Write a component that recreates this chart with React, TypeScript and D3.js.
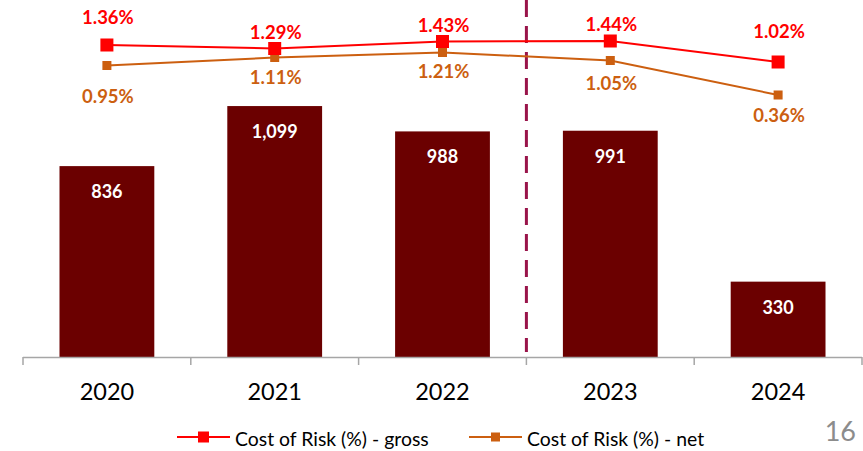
import React, { useEffect, useRef } from "react";
import * as d3 from "d3";

// chart data
const years = ["2020", "2021", "2022", "2023", "2024"];
const provisions = [836, 1099, 988, 991, 330];
const corGross = [1.36, 1.29, 1.43, 1.44, 1.02];
const corNet = [0.95, 1.11, 1.21, 1.05, 0.36];
const seriesNames = ["Cost of Risk (%) - gross", "Cost of Risk (%) - net"];
const pageNumber = "16";

// label nudges (px) to follow the manual placement of the original slide
const grossLabelDy = [-28, -17, -17, -17, -31];
const netLabelDy = [30, 19, 18, 22, 20];

const W = 863;
const H = 451;
const FONT = "Lato, 'Liberation Sans', sans-serif";

const BAR = "#6b0000";
const GROSS = "#ff0000";
const NET = "#cc5f10";

function App() {
  const ref = useRef<SVGSVGElement>(null);

  useEffect(() => {
    const svg = d3.select(ref.current);
    svg.selectAll("*").remove();

    const x = d3.scaleBand<string>().domain(years).range([23, 862]).padding(0);
    const barW = x.bandwidth() * 0.565;
    const cx = (d: string) => (x(d) as number) + x.bandwidth() / 2;

    const yBar = d3.scaleLinear().domain([0, 1200]).range([357, 83]);
    const yLine = d3.scaleLinear().domain([0, 2]).range([113, 13]);

    // bars
    const bars = svg.append("g");
    bars
      .selectAll("rect")
      .data(provisions)
      .enter()
      .append("rect")
      .attr("x", (_, i) => cx(years[i]) - barW / 2)
      .attr("y", (d) => yBar(d))
      .attr("width", barW)
      .attr("height", (d) => yBar(0) - yBar(d))
      .attr("fill", BAR);

    bars
      .selectAll("text")
      .data(provisions)
      .enter()
      .append("text")
      .attr("x", (_, i) => cx(years[i]))
      .attr("y", (d) => Math.min(yBar(d) + 25, (yBar(d) + yBar(0)) / 2))
      .attr("text-anchor", "middle")
      .attr("dominant-baseline", "central")
      .style("font-family", FONT)
      .style("font-weight", "bold")
      .style("font-size", "18px")
      .style("fill", "#ffffff")
      .text((d) => d3.format(",")(d));

    // dashed separator before 2023
    const sepX = x("2023") as number;
    svg
      .append("line")
      .attr("x1", sepX)
      .attr("x2", sepX)
      .attr("y1", 0)
      .attr("y2", 352)
      .attr("stroke", "#99144a")
      .attr("stroke-width", 3)
      .attr("stroke-dasharray", "17 9");

    // x axis
    const axis = svg.append("g");
    axis
      .append("line")
      .attr("x1", 23)
      .attr("x2", 862)
      .attr("y1", 357.5)
      .attr("y2", 357.5)
      .attr("stroke", "#a6a6a6")
      .attr("stroke-width", 1.5);
    const tickXs = years.map((d) => x(d) as number).concat([862]);
    axis
      .selectAll("line.tick")
      .data(tickXs)
      .enter()
      .append("line")
      .attr("class", "tick")
      .attr("x1", (d) => d)
      .attr("x2", (d) => d)
      .attr("y1", 357)
      .attr("y2", 365)
      .attr("stroke", "#a6a6a6")
      .attr("stroke-width", 1.5);
    axis
      .selectAll("text")
      .data(years)
      .enter()
      .append("text")
      .attr("x", (d) => cx(d))
      .attr("y", 391)
      .attr("text-anchor", "middle")
      .attr("dominant-baseline", "central")
      .style("font-family", FONT)
      .style("font-size", "23.5px")
      .style("fill", "#000000")
      .text((d) => d);

    // lines
    const line = d3
      .line<number>()
      .x((_, i) => cx(years[i]))
      .y((d) => yLine(d));

    const drawSeries = (
      vals: number[],
      color: string,
      marker: number,
      dys: number[]
    ) => {
      const g = svg.append("g");
      g.append("path")
        .attr("d", line(vals))
        .attr("fill", "none")
        .attr("stroke", color)
        .attr("stroke-width", 2);
      g.selectAll("rect")
        .data(vals)
        .enter()
        .append("rect")
        .attr("x", (_, i) => cx(years[i]) - marker / 2)
        .attr("y", (d) => yLine(d) - marker / 2)
        .attr("width", marker)
        .attr("height", marker)
        .attr("fill", color);
      g.selectAll("text")
        .data(vals)
        .enter()
        .append("text")
        .attr("x", (_, i) => cx(years[i]) + 1)
        .attr("y", (d, i) => yLine(d) + dys[i])
        .attr("text-anchor", "middle")
        .attr("dominant-baseline", "central")
        .style("font-family", FONT)
        .style("font-weight", "bold")
        .style("font-size", "18.5px")
        .style("fill", color)
        .text((d) => d3.format(".2f")(d) + "%");
    };
    drawSeries(corNet, NET, 9, netLabelDy);
    drawSeries(corGross, GROSS, 13, grossLabelDy);

    // legend
    const legend = svg.append("g");
    const legendItems = [
      { name: seriesNames[0], color: GROSS, marker: 11, x: 177 },
      { name: seriesNames[1], color: NET, marker: 9, x: 469 },
    ];
    legendItems.forEach((it) => {
      legend
        .append("line")
        .attr("x1", it.x)
        .attr("x2", it.x + 53)
        .attr("y1", 437)
        .attr("y2", 437)
        .attr("stroke", it.color)
        .attr("stroke-width", 2);
      legend
        .append("rect")
        .attr("x", it.x + 26.5 - it.marker / 2)
        .attr("y", 437 - it.marker / 2)
        .attr("width", it.marker)
        .attr("height", it.marker)
        .attr("fill", it.color);
      legend
        .append("text")
        .attr("x", it.x + 58)
        .attr("y", 438)
        .attr("dominant-baseline", "central")
        .style("font-family", FONT)
        .style("font-size", "19.4px")
        .style("fill", "#000000")
        .text(it.name);
    });

    svg
      .append("text")
      .attr("x", 856)
      .attr("y", 430)
      .attr("text-anchor", "end")
      .attr("dominant-baseline", "central")
      .style("font-family", FONT)
      .style("font-size", "27px")
      .style("fill", "#8c8c8c")
      .text(pageNumber);
  }, []);

  return (
    <svg
      ref={ref}
      width={W}
      height={H}
      style={{ position: "absolute", left: 0, top: 0, background: "#ffffff" }}
    />
  );
}

export default App;
